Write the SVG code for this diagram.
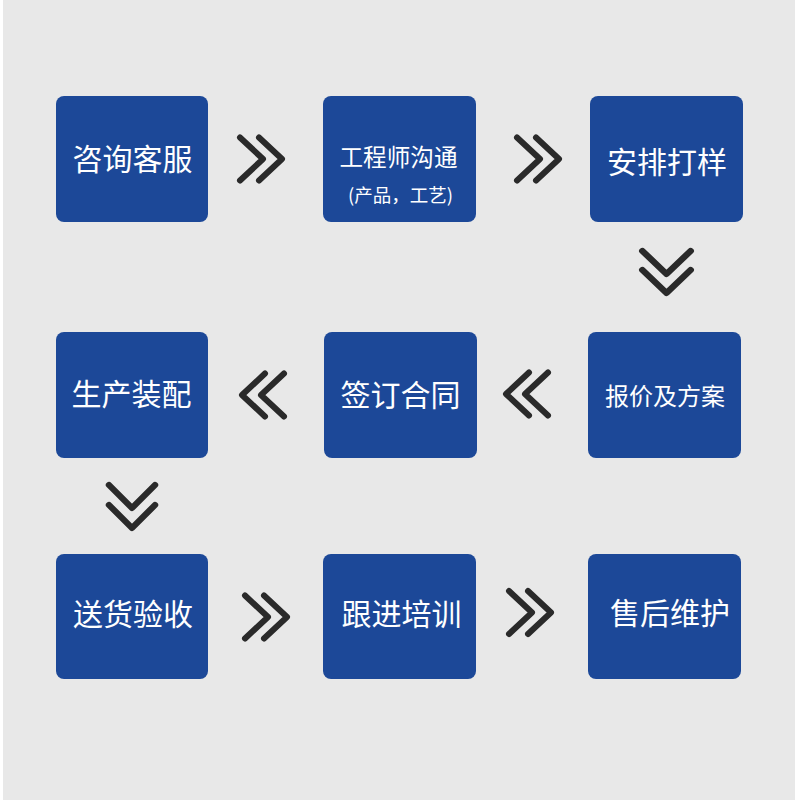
<svg xmlns="http://www.w3.org/2000/svg" xmlns:xlink="http://www.w3.org/1999/xlink" width="800" height="800" viewBox="0 0 800 800">
<style>
.box{fill:#1c4898;}
.t{fill:#ffffff;font-family:"Noto Sans CJK SC","Noto Sans",sans-serif;text-anchor:middle;}
.t30{font-size:30px;}
.t23{font-size:23.6px;}
.t24{font-size:24px;}
.t18{font-size:18.5px;}
.chev{fill:none;stroke:#2a2a2a;stroke-width:6;stroke-linecap:round;stroke-linejoin:round;}
</style>
<defs>
<path id="cv" class="chev" d="M0,-21.5 L23,0 L0,21.5"/>
</defs>
<rect x="0" y="0" width="800" height="800" fill="#ffffff"/>
<rect x="3" y="0" width="792" height="800" fill="#e8e8e8"/>

<g id="n1"><rect class="box" x="56" y="96" width="152" height="126" rx="8"/><text class="t t30" x="132.5" y="170">咨询客服</text></g>
<g id="n2"><rect class="box" x="323" y="96" width="153" height="126" rx="8"/><text class="t t23" x="398.5" y="166">工程师沟通</text><text class="t t18" x="400.5" y="201.5">(产品，工艺)</text></g>
<g id="n3"><rect class="box" x="590" y="96" width="153" height="126" rx="8"/><text class="t t30" x="667" y="173">安排打样</text></g>
<g id="n4"><rect class="box" x="56" y="332" width="152" height="126" rx="8"/><text class="t t30" x="131.5" y="405">生产装配</text></g>
<g id="n5"><rect class="box" x="324" y="332" width="153" height="126" rx="8"/><text class="t t30" x="400.5" y="405.5">签订合同</text></g>
<g id="n6"><rect class="box" x="588" y="332" width="153" height="126" rx="8"/><text class="t t24" x="665" y="405">报价及方案</text></g>
<g id="n7"><rect class="box" x="56" y="554" width="152" height="125" rx="8"/><text class="t t30" x="133" y="624.5">送货验收</text></g>
<g id="n8"><rect class="box" x="323" y="554" width="153" height="125" rx="8"/><text class="t t30" x="401.5" y="625">跟进培训</text></g>
<g id="n9"><rect class="box" x="588" y="554" width="153" height="125" rx="8"/><text class="t t30" x="670" y="624">售后维护</text></g>

<g id="connectors">
<use xlink:href="#cv" transform="translate(240,159)"/>
<use xlink:href="#cv" transform="translate(259,159)"/>
<use xlink:href="#cv" transform="translate(517,159)"/>
<use xlink:href="#cv" transform="translate(536,159)"/>
<use xlink:href="#cv" transform="translate(666.5,251) rotate(90) scale(1,1.12)"/>
<use xlink:href="#cv" transform="translate(666.5,270) rotate(90) scale(1,1.12)"/>
<use xlink:href="#cv" transform="translate(265,395) rotate(180)"/>
<use xlink:href="#cv" transform="translate(284,395) rotate(180)"/>
<use xlink:href="#cv" transform="translate(529,394) rotate(180)"/>
<use xlink:href="#cv" transform="translate(548,394) rotate(180)"/>
<use xlink:href="#cv" transform="translate(132,485) rotate(90) scale(1,1.07)"/>
<use xlink:href="#cv" transform="translate(132,505) rotate(90) scale(1,1.07)"/>
<use xlink:href="#cv" transform="translate(245,617)"/>
<use xlink:href="#cv" transform="translate(264,617)"/>
<use xlink:href="#cv" transform="translate(509,612.5)"/>
<use xlink:href="#cv" transform="translate(528,612.5)"/>
</g>
</svg>
